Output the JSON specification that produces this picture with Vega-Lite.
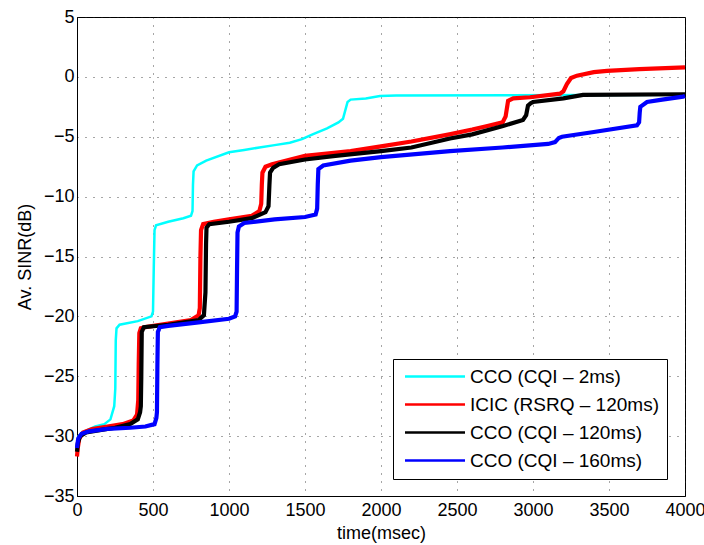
{
  "$schema": "https://vega.github.io/schema/vega-lite/v6.json",
  "width": 608,
  "height": 479,
  "autosize": {"type": "none"},
  "padding": {"left": 77, "top": 17, "right": 19, "bottom": 49},
  "background": "white",
  "config": {
    "font": "Liberation Sans",
    "view": {"stroke": "black", "strokeWidth": 1},
    "axis": {
      "domainColor": "black",
      "tickColor": "black",
      "labelColor": "black",
      "titleColor": "black",
      "labelFontSize": 18,
      "titleFontSize": 18,
      "titleFontWeight": "normal",
      "gridColor": "#222",
      "gridDash": [1, 7],
      "gridWidth": 1,
      "gridOpacity": 0.8,
      "ticks": false
    }
  },
  "data": {
    "values": [
      {"s": "CCO (CQI – 2ms)", "t": 0, "v": -30.8},
      {"s": "CCO (CQI – 2ms)", "t": 10, "v": -30.0},
      {"s": "CCO (CQI – 2ms)", "t": 50, "v": -29.6},
      {"s": "CCO (CQI – 2ms)", "t": 120, "v": -29.2},
      {"s": "CCO (CQI – 2ms)", "t": 180, "v": -29.0},
      {"s": "CCO (CQI – 2ms)", "t": 220, "v": -28.6},
      {"s": "CCO (CQI – 2ms)", "t": 245, "v": -27.5},
      {"s": "CCO (CQI – 2ms)", "t": 252, "v": -26.0},
      {"s": "CCO (CQI – 2ms)", "t": 255, "v": -22.0},
      {"s": "CCO (CQI – 2ms)", "t": 260, "v": -21.0},
      {"s": "CCO (CQI – 2ms)", "t": 280, "v": -20.7},
      {"s": "CCO (CQI – 2ms)", "t": 400, "v": -20.4},
      {"s": "CCO (CQI – 2ms)", "t": 490, "v": -20.0},
      {"s": "CCO (CQI – 2ms)", "t": 500, "v": -19.6},
      {"s": "CCO (CQI – 2ms)", "t": 505, "v": -16.0},
      {"s": "CCO (CQI – 2ms)", "t": 510, "v": -12.8},
      {"s": "CCO (CQI – 2ms)", "t": 520, "v": -12.4},
      {"s": "CCO (CQI – 2ms)", "t": 600, "v": -12.1},
      {"s": "CCO (CQI – 2ms)", "t": 700, "v": -11.8},
      {"s": "CCO (CQI – 2ms)", "t": 750, "v": -11.6},
      {"s": "CCO (CQI – 2ms)", "t": 760, "v": -11.2},
      {"s": "CCO (CQI – 2ms)", "t": 763, "v": -9.0},
      {"s": "CCO (CQI – 2ms)", "t": 767, "v": -7.9},
      {"s": "CCO (CQI – 2ms)", "t": 790, "v": -7.4},
      {"s": "CCO (CQI – 2ms)", "t": 850, "v": -7.0},
      {"s": "CCO (CQI – 2ms)", "t": 1000, "v": -6.3},
      {"s": "CCO (CQI – 2ms)", "t": 1100, "v": -6.1},
      {"s": "CCO (CQI – 2ms)", "t": 1200, "v": -5.9},
      {"s": "CCO (CQI – 2ms)", "t": 1300, "v": -5.7},
      {"s": "CCO (CQI – 2ms)", "t": 1400, "v": -5.5},
      {"s": "CCO (CQI – 2ms)", "t": 1480, "v": -5.2},
      {"s": "CCO (CQI – 2ms)", "t": 1550, "v": -4.8},
      {"s": "CCO (CQI – 2ms)", "t": 1645, "v": -4.3},
      {"s": "CCO (CQI – 2ms)", "t": 1720, "v": -3.8},
      {"s": "CCO (CQI – 2ms)", "t": 1750, "v": -3.5},
      {"s": "CCO (CQI – 2ms)", "t": 1765, "v": -2.8},
      {"s": "CCO (CQI – 2ms)", "t": 1780, "v": -2.1},
      {"s": "CCO (CQI – 2ms)", "t": 1800, "v": -1.9},
      {"s": "CCO (CQI – 2ms)", "t": 1900, "v": -1.8},
      {"s": "CCO (CQI – 2ms)", "t": 1993, "v": -1.6},
      {"s": "CCO (CQI – 2ms)", "t": 2100, "v": -1.55},
      {"s": "CCO (CQI – 2ms)", "t": 4000, "v": -1.5},

      {"s": "ICIC (RSRQ – 120ms)", "t": 0, "v": -31.7},
      {"s": "ICIC (RSRQ – 120ms)", "t": 5, "v": -31.0},
      {"s": "ICIC (RSRQ – 120ms)", "t": 15, "v": -30.2},
      {"s": "ICIC (RSRQ – 120ms)", "t": 40, "v": -29.7},
      {"s": "ICIC (RSRQ – 120ms)", "t": 100, "v": -29.4},
      {"s": "ICIC (RSRQ – 120ms)", "t": 200, "v": -29.2},
      {"s": "ICIC (RSRQ – 120ms)", "t": 300, "v": -29.0},
      {"s": "ICIC (RSRQ – 120ms)", "t": 370, "v": -28.7},
      {"s": "ICIC (RSRQ – 120ms)", "t": 395, "v": -28.2},
      {"s": "ICIC (RSRQ – 120ms)", "t": 403, "v": -27.0},
      {"s": "ICIC (RSRQ – 120ms)", "t": 406, "v": -24.0},
      {"s": "ICIC (RSRQ – 120ms)", "t": 410, "v": -21.4},
      {"s": "ICIC (RSRQ – 120ms)", "t": 420, "v": -21.0},
      {"s": "ICIC (RSRQ – 120ms)", "t": 450, "v": -20.9},
      {"s": "ICIC (RSRQ – 120ms)", "t": 600, "v": -20.6},
      {"s": "ICIC (RSRQ – 120ms)", "t": 750, "v": -20.3},
      {"s": "ICIC (RSRQ – 120ms)", "t": 800, "v": -19.9},
      {"s": "ICIC (RSRQ – 120ms)", "t": 808, "v": -19.3},
      {"s": "ICIC (RSRQ – 120ms)", "t": 812, "v": -15.0},
      {"s": "ICIC (RSRQ – 120ms)", "t": 816, "v": -12.8},
      {"s": "ICIC (RSRQ – 120ms)", "t": 830, "v": -12.3},
      {"s": "ICIC (RSRQ – 120ms)", "t": 900, "v": -12.1},
      {"s": "ICIC (RSRQ – 120ms)", "t": 1000, "v": -11.9},
      {"s": "ICIC (RSRQ – 120ms)", "t": 1150, "v": -11.6},
      {"s": "ICIC (RSRQ – 120ms)", "t": 1200, "v": -11.2},
      {"s": "ICIC (RSRQ – 120ms)", "t": 1212, "v": -10.6},
      {"s": "ICIC (RSRQ – 120ms)", "t": 1216, "v": -9.0},
      {"s": "ICIC (RSRQ – 120ms)", "t": 1220, "v": -8.0},
      {"s": "ICIC (RSRQ – 120ms)", "t": 1240, "v": -7.5},
      {"s": "ICIC (RSRQ – 120ms)", "t": 1283, "v": -7.3},
      {"s": "ICIC (RSRQ – 120ms)", "t": 1500, "v": -6.6},
      {"s": "ICIC (RSRQ – 120ms)", "t": 1800, "v": -6.2},
      {"s": "ICIC (RSRQ – 120ms)", "t": 2000, "v": -5.8},
      {"s": "ICIC (RSRQ – 120ms)", "t": 2200, "v": -5.4},
      {"s": "ICIC (RSRQ – 120ms)", "t": 2450, "v": -4.8},
      {"s": "ICIC (RSRQ – 120ms)", "t": 2600, "v": -4.4},
      {"s": "ICIC (RSRQ – 120ms)", "t": 2700, "v": -4.1},
      {"s": "ICIC (RSRQ – 120ms)", "t": 2800, "v": -3.8},
      {"s": "ICIC (RSRQ – 120ms)", "t": 2820, "v": -3.3},
      {"s": "ICIC (RSRQ – 120ms)", "t": 2836, "v": -2.0},
      {"s": "ICIC (RSRQ – 120ms)", "t": 2870, "v": -1.8},
      {"s": "ICIC (RSRQ – 120ms)", "t": 2980, "v": -1.7},
      {"s": "ICIC (RSRQ – 120ms)", "t": 3178, "v": -1.4},
      {"s": "ICIC (RSRQ – 120ms)", "t": 3200, "v": -1.2},
      {"s": "ICIC (RSRQ – 120ms)", "t": 3223, "v": -0.6},
      {"s": "ICIC (RSRQ – 120ms)", "t": 3250, "v": -0.1},
      {"s": "ICIC (RSRQ – 120ms)", "t": 3289, "v": 0.1},
      {"s": "ICIC (RSRQ – 120ms)", "t": 3400, "v": 0.4},
      {"s": "ICIC (RSRQ – 120ms)", "t": 3487, "v": 0.5},
      {"s": "ICIC (RSRQ – 120ms)", "t": 3700, "v": 0.65},
      {"s": "ICIC (RSRQ – 120ms)", "t": 4000, "v": 0.8},

      {"s": "CCO (CQI – 120ms)", "t": 0, "v": -31.3},
      {"s": "CCO (CQI – 120ms)", "t": 5, "v": -30.6},
      {"s": "CCO (CQI – 120ms)", "t": 20, "v": -30.0},
      {"s": "CCO (CQI – 120ms)", "t": 60, "v": -29.7},
      {"s": "CCO (CQI – 120ms)", "t": 150, "v": -29.5},
      {"s": "CCO (CQI – 120ms)", "t": 250, "v": -29.3},
      {"s": "CCO (CQI – 120ms)", "t": 350, "v": -29.0},
      {"s": "CCO (CQI – 120ms)", "t": 400, "v": -28.6},
      {"s": "CCO (CQI – 120ms)", "t": 415, "v": -28.0},
      {"s": "CCO (CQI – 120ms)", "t": 420, "v": -27.5},
      {"s": "CCO (CQI – 120ms)", "t": 423, "v": -25.0},
      {"s": "CCO (CQI – 120ms)", "t": 426, "v": -21.3},
      {"s": "CCO (CQI – 120ms)", "t": 440, "v": -20.9},
      {"s": "CCO (CQI – 120ms)", "t": 600, "v": -20.7},
      {"s": "CCO (CQI – 120ms)", "t": 800, "v": -20.3},
      {"s": "CCO (CQI – 120ms)", "t": 835, "v": -19.9},
      {"s": "CCO (CQI – 120ms)", "t": 845, "v": -18.0},
      {"s": "CCO (CQI – 120ms)", "t": 849, "v": -14.0},
      {"s": "CCO (CQI – 120ms)", "t": 852, "v": -12.6},
      {"s": "CCO (CQI – 120ms)", "t": 870, "v": -12.3},
      {"s": "CCO (CQI – 120ms)", "t": 1000, "v": -12.1},
      {"s": "CCO (CQI – 120ms)", "t": 1150, "v": -11.8},
      {"s": "CCO (CQI – 120ms)", "t": 1240, "v": -11.3},
      {"s": "CCO (CQI – 120ms)", "t": 1260, "v": -10.8},
      {"s": "CCO (CQI – 120ms)", "t": 1266, "v": -9.0},
      {"s": "CCO (CQI – 120ms)", "t": 1270, "v": -8.0},
      {"s": "CCO (CQI – 120ms)", "t": 1290, "v": -7.6},
      {"s": "CCO (CQI – 120ms)", "t": 1330, "v": -7.3},
      {"s": "CCO (CQI – 120ms)", "t": 1500, "v": -6.9},
      {"s": "CCO (CQI – 120ms)", "t": 1700, "v": -6.6},
      {"s": "CCO (CQI – 120ms)", "t": 2000, "v": -6.2},
      {"s": "CCO (CQI – 120ms)", "t": 2200, "v": -5.9},
      {"s": "CCO (CQI – 120ms)", "t": 2454, "v": -5.15},
      {"s": "CCO (CQI – 120ms)", "t": 2600, "v": -4.8},
      {"s": "CCO (CQI – 120ms)", "t": 2803, "v": -4.1},
      {"s": "CCO (CQI – 120ms)", "t": 2934, "v": -3.6},
      {"s": "CCO (CQI – 120ms)", "t": 2955, "v": -3.2},
      {"s": "CCO (CQI – 120ms)", "t": 2967, "v": -2.4},
      {"s": "CCO (CQI – 120ms)", "t": 2985, "v": -2.2},
      {"s": "CCO (CQI – 120ms)", "t": 3000, "v": -2.1},
      {"s": "CCO (CQI – 120ms)", "t": 3200, "v": -1.8},
      {"s": "CCO (CQI – 120ms)", "t": 3329, "v": -1.5},
      {"s": "CCO (CQI – 120ms)", "t": 4000, "v": -1.45},

      {"s": "CCO (CQI – 160ms)", "t": 0, "v": -31.0},
      {"s": "CCO (CQI – 160ms)", "t": 8, "v": -30.2},
      {"s": "CCO (CQI – 160ms)", "t": 30, "v": -29.8},
      {"s": "CCO (CQI – 160ms)", "t": 80, "v": -29.6},
      {"s": "CCO (CQI – 160ms)", "t": 200, "v": -29.4},
      {"s": "CCO (CQI – 160ms)", "t": 350, "v": -29.3},
      {"s": "CCO (CQI – 160ms)", "t": 450, "v": -29.2},
      {"s": "CCO (CQI – 160ms)", "t": 510, "v": -29.0},
      {"s": "CCO (CQI – 160ms)", "t": 522, "v": -28.5},
      {"s": "CCO (CQI – 160ms)", "t": 526, "v": -28.0},
      {"s": "CCO (CQI – 160ms)", "t": 529, "v": -24.0},
      {"s": "CCO (CQI – 160ms)", "t": 532, "v": -21.3},
      {"s": "CCO (CQI – 160ms)", "t": 545, "v": -20.9},
      {"s": "CCO (CQI – 160ms)", "t": 600, "v": -20.8},
      {"s": "CCO (CQI – 160ms)", "t": 800, "v": -20.5},
      {"s": "CCO (CQI – 160ms)", "t": 1000, "v": -20.2},
      {"s": "CCO (CQI – 160ms)", "t": 1040, "v": -20.0},
      {"s": "CCO (CQI – 160ms)", "t": 1050, "v": -19.6},
      {"s": "CCO (CQI – 160ms)", "t": 1053, "v": -16.0},
      {"s": "CCO (CQI – 160ms)", "t": 1056, "v": -13.0},
      {"s": "CCO (CQI – 160ms)", "t": 1065, "v": -12.5},
      {"s": "CCO (CQI – 160ms)", "t": 1100, "v": -12.2},
      {"s": "CCO (CQI – 160ms)", "t": 1300, "v": -11.9},
      {"s": "CCO (CQI – 160ms)", "t": 1500, "v": -11.7},
      {"s": "CCO (CQI – 160ms)", "t": 1570, "v": -11.5},
      {"s": "CCO (CQI – 160ms)", "t": 1580, "v": -11.0},
      {"s": "CCO (CQI – 160ms)", "t": 1584, "v": -9.0},
      {"s": "CCO (CQI – 160ms)", "t": 1588, "v": -7.7},
      {"s": "CCO (CQI – 160ms)", "t": 1620, "v": -7.4},
      {"s": "CCO (CQI – 160ms)", "t": 1800, "v": -7.0},
      {"s": "CCO (CQI – 160ms)", "t": 2000, "v": -6.7},
      {"s": "CCO (CQI – 160ms)", "t": 2454, "v": -6.2},
      {"s": "CCO (CQI – 160ms)", "t": 2800, "v": -5.9},
      {"s": "CCO (CQI – 160ms)", "t": 3100, "v": -5.6},
      {"s": "CCO (CQI – 160ms)", "t": 3145, "v": -5.45},
      {"s": "CCO (CQI – 160ms)", "t": 3170, "v": -5.1},
      {"s": "CCO (CQI – 160ms)", "t": 3191, "v": -5.0},
      {"s": "CCO (CQI – 160ms)", "t": 3400, "v": -4.6},
      {"s": "CCO (CQI – 160ms)", "t": 3684, "v": -4.05},
      {"s": "CCO (CQI – 160ms)", "t": 3698, "v": -3.8},
      {"s": "CCO (CQI – 160ms)", "t": 3702, "v": -3.0},
      {"s": "CCO (CQI – 160ms)", "t": 3706, "v": -2.5},
      {"s": "CCO (CQI – 160ms)", "t": 3750, "v": -2.1},
      {"s": "CCO (CQI – 160ms)", "t": 3850, "v": -1.9},
      {"s": "CCO (CQI – 160ms)", "t": 3987, "v": -1.65},
      {"s": "CCO (CQI – 160ms)", "t": 4000, "v": -1.6}
    ]
  },
  "encoding": {
    "x": {
      "field": "t", "type": "quantitative",
      "scale": {"domain": [0, 4000], "nice": false},
      "axis": {"title": "time(msec)", "format": "d", "values": [0, 500, 1000, 1500, 2000, 2500, 3000, 3500, 4000], "labelPadding": 5, "titlePadding": 5, "labelFlush": false}
    },
    "y": {
      "field": "v", "type": "quantitative",
      "scale": {"domain": [-35, 5], "nice": false, "zero": false},
      "axis": {"title": "Av. SINR(dB)", "values": [-35, -30, -25, -20, -15, -10, -5, 0, 5], "labelPadding": 3, "titlePadding": 9, "labelFlush": false}
    },
    "color": {
      "field": "s", "type": "nominal",
      "scale": {
        "domain": ["CCO (CQI – 2ms)", "ICIC (RSRQ – 120ms)", "CCO (CQI – 120ms)", "CCO (CQI – 160ms)"],
        "range": ["#00FFFF", "#FF0000", "#000000", "#0000FF"]
      },
      "legend": {
        "title": null,
        "orient": "none",
        "legendX": 316,
        "legendY": 342,
        "fillColor": "white",
        "strokeColor": "black",
        "padding": 8,
        "labelFontSize": 19,
        "labelColor": "black",
        "labelLimit": 400,
        "labelOffset": 25.5,
        "symbolType": "M-6,0H6",
        "symbolSize": 100,
        "symbolOffset": 24.5,
        "symbolStrokeWidth": 2.5,
        "rowPadding": 8
      }
    }
  },
  "layer": [
    {
      "transform": [{"filter": "datum.s === 'CCO (CQI – 2ms)'"}],
      "mark": {"type": "line", "interpolate": "linear", "strokeWidth": 2.5}
    },
    {
      "transform": [{"filter": "datum.s !== 'CCO (CQI – 2ms)'"}],
      "mark": {"type": "line", "interpolate": "linear", "strokeWidth": 4.2}
    }
  ]
}
